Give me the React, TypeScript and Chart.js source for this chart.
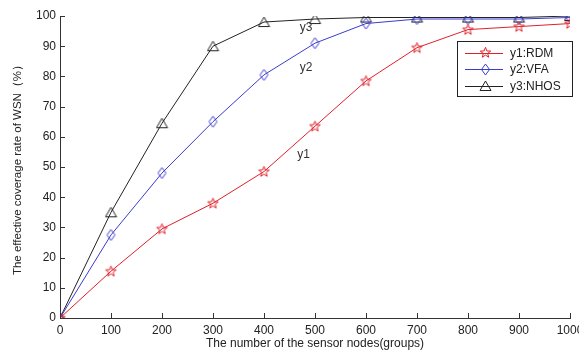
import React, { useEffect, useRef } from "react";
import { Chart, registerables } from "chart.js";
Chart.register(...registerables);

const xValues = [0, 100, 200, 300, 400, 500, 600, 700, 800, 900, 1000];
const rdm = [0, 15.5, 29.5, 38, 48.5, 63.5, 78.5, 89.5, 95.5, 96.5, 97.5];
const vfa = [0, 27.5, 48, 65, 80.5, 91, 97.5, 99, 99, 99, 99.5];
const nhos = [0, 35, 64.5, 90, 98, 99, 99.5, 99.5, 99.5, 99.5, 100];
const seriesNames = ["y1:RDM", "y2:VFA", "y3:NHOS"];
const curveLabels = [
  { text: "y1", x: 465, y: 54 },
  { text: "y2", x: 470, y: 83 },
  { text: "y3", x: 470, y: 96 },
];

const RED = "#e0202a";
const BLUE = "#3b3bd0";
const BLACK = "#222222";
const FONT = "'Liberation Sans', Arial, sans-serif";

function makePentagram(color: string) {
  const c = document.createElement("canvas");
  c.width = 13;
  c.height = 13;
  const ctx = c.getContext("2d")!;
  ctx.strokeStyle = color;
  ctx.lineWidth = 1;
  ctx.beginPath();
  const cx = 6.5, cy = 6.8, R = 5.5, r = 2.3;
  for (let i = 0; i < 10; i++) {
    const ang = -Math.PI / 2 + (i * Math.PI) / 5;
    const rad = i % 2 === 0 ? R : r;
    const px = cx + rad * Math.cos(ang);
    const py = cy + rad * Math.sin(ang);
    if (i === 0) ctx.moveTo(px, py);
    else ctx.lineTo(px, py);
  }
  ctx.closePath();
  ctx.stroke();
  return c;
}

function makeDiamond(color: string) {
  const c = document.createElement("canvas");
  c.width = 11;
  c.height = 13;
  const ctx = c.getContext("2d")!;
  ctx.strokeStyle = color;
  ctx.lineWidth = 1;
  ctx.beginPath();
  ctx.moveTo(5.5, 1);
  ctx.lineTo(9.5, 6.5);
  ctx.lineTo(5.5, 12);
  ctx.lineTo(1.5, 6.5);
  ctx.closePath();
  ctx.stroke();
  return c;
}

function makeTriangle(color: string) {
  const c = document.createElement("canvas");
  c.width = 13;
  c.height = 12;
  const ctx = c.getContext("2d")!;
  ctx.strokeStyle = color;
  ctx.lineWidth = 1;
  ctx.beginPath();
  ctx.moveTo(6.5, 1);
  ctx.lineTo(12, 10.5);
  ctx.lineTo(1, 10.5);
  ctx.closePath();
  ctx.stroke();
  return c;
}

export default function App() {
  const ref = useRef<HTMLCanvasElement>(null);
  useEffect(() => {
    const star = makePentagram(RED);
    const diamond = makeDiamond(BLUE);
    const tri = makeTriangle(BLACK);
    const markers = [star, diamond, tri];
    const colors = [RED, BLUE, BLACK];

    const extras = {
      id: "extras",
      afterDraw(chart: any) {
        const { ctx, chartArea, scales } = chart;
        const xs = scales.x;
        const ys = scales.y;
        ctx.save();
        // inward ticks
        ctx.strokeStyle = "#333";
        ctx.lineWidth = 1;
        ctx.beginPath();
        for (const v of xValues) {
          const px = Math.round(xs.getPixelForValue(v)) + 0.5;
          ctx.moveTo(px, chartArea.bottom);
          ctx.lineTo(px, chartArea.bottom - 5);
        }
        for (let v = 0; v <= 100; v += 10) {
          const py = Math.round(ys.getPixelForValue(v)) + 0.5;
          ctx.moveTo(chartArea.left, py);
          ctx.lineTo(chartArea.left + 5, py);
        }
        ctx.stroke();
        // curve labels
        ctx.fillStyle = "#333";
        ctx.font = `12px ${FONT}`;
        ctx.textAlign = "left";
        ctx.textBaseline = "middle";
        for (const l of curveLabels) {
          ctx.fillText(l.text, xs.getPixelForValue(l.x), ys.getPixelForValue(l.y));
        }
        // legend
        const bx = chartArea.right - 113;
        const by = chartArea.top + 25;
        const bw = 115;
        const bh = 55;
        ctx.fillStyle = "#fff";
        ctx.fillRect(bx, by, bw, bh);
        ctx.strokeStyle = "#222";
        ctx.strokeRect(bx + 0.5, by + 0.5, bw, bh);
        ctx.font = `12px ${FONT}`;
        for (let i = 0; i < 3; i++) {
          const ry = by + 11.5 + i * 16.5;
          ctx.strokeStyle = colors[i];
          ctx.beginPath();
          ctx.moveTo(bx + 8, Math.round(ry) + 0.5);
          ctx.lineTo(bx + 46, Math.round(ry) + 0.5);
          ctx.stroke();
          const m = markers[i];
          ctx.drawImage(m, Math.round(bx + 28 - m.width / 2), Math.round(ry - m.height / 2));
          ctx.fillStyle = "#222";
          ctx.fillText(seriesNames[i], bx + 53, ry + 1);
        }
        ctx.restore();
      },
    };

    const mk = (vals: number[], i: number) => ({
      label: seriesNames[i],
      data: xValues.map((x, k) => ({ x, y: vals[k] })),
      borderColor: colors[i],
      backgroundColor: "transparent",
      borderWidth: 1,
      pointStyle: markers[i],
      pointRadius: 5,
      tension: 0,
    });

    const chart = new Chart(ref.current!, {
      type: "line",
      data: { datasets: [mk(rdm, 0), mk(vfa, 1), mk(nhos, 2)] },
      options: {
        animation: false,
        responsive: false,
        layout: { padding: { top: 16, right: 9, bottom: 0, left: 0 } },
        plugins: { legend: { display: false }, tooltip: { enabled: false } },
        scales: {
          x: {
            type: "linear",
            min: 0,
            max: 1000,
            ticks: { stepSize: 100, autoSkip: false, maxRotation: 0, color: "#222", padding: 5, font: { family: FONT, size: 12 }, callback: (v: any) => String(v) },
            grid: { display: false, drawTicks: false },
            border: { display: true, color: "#333", width: 1 },
            title: { display: true, text: "The number of the sensor nodes(groups)", color: "#222", font: { family: FONT, size: 12 }, padding: { top: 0, bottom: 5 } },
            afterFit(scale: any) {
              scale.height = 38;
              scale.paddingLeft = 0;
              scale.paddingRight = 0;
            },
          },
          y: {
            min: 0,
            max: 100,
            ticks: { stepSize: 10, color: "#222", padding: 4, font: { family: FONT, size: 12 }, callback: (v: any) => String(v) },
            grid: { display: false, drawTicks: false },
            border: { display: true, color: "#333", width: 1 },
            title: { display: true, text: "The effective coverage rate of WSN（%）", color: "#222", font: { family: FONT, size: 11.5 }, padding: { top: 11, bottom: 0 } },
            afterFit(scale: any) {
              scale.width = 60;
            },
          },
        },
      },
      plugins: [extras],
    } as any);
    return () => chart.destroy();
  }, []);
  return (
    <div style={{ position: "fixed", left: 0, top: 0, width: 579, height: 356, background: "#fff" }}>
      <canvas ref={ref} width={579} height={356} style={{ display: "block" }} />
    </div>
  );
}
